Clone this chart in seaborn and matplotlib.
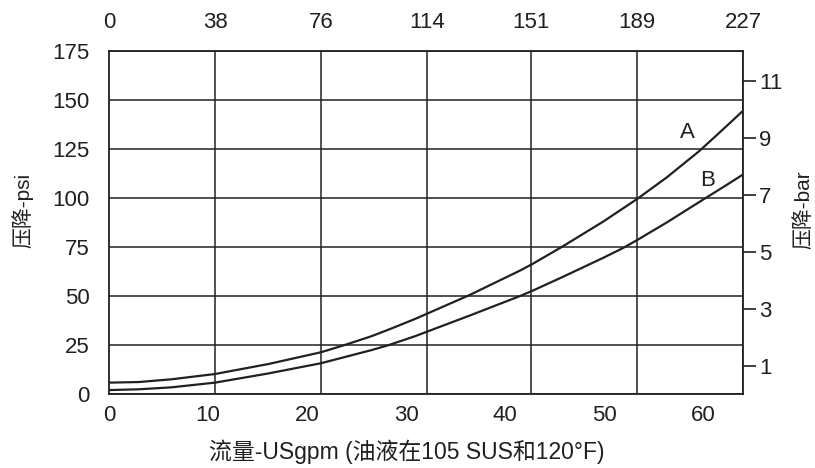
import numpy as np
import pandas as pd
import matplotlib
matplotlib.use("Agg")
import matplotlib.pyplot as plt
import seaborn as sns

# ---- data ----
gpm_a = [0, 3.0, 6.3, 10.7, 16.1, 21.4, 23.8, 26.5, 28.2, 30.9, 36.4, 41.5, 42.8, 45.7, 49.9, 53.4, 56.3, 59.6, 62.3, 64]
psi_a = [5.8, 6.1, 7.5, 10.2, 15.3, 21.3, 25.0, 29.5, 32.8, 38.3, 50.5, 63.0, 66.5, 75.0, 88.0, 99.8, 110.5, 124.0, 136.5, 144.5]
gpm_b = [0, 3.0, 6.3, 10.7, 16.1, 21.4, 26.5, 28.2, 30.9, 36.4, 41.5, 42.8, 45.7, 49.9, 51.9, 53.4, 56.3, 59.6, 62.3, 64]
psi_b = [2.0, 2.4, 3.4, 5.8, 10.5, 15.7, 22.4, 24.9, 29.5, 40.0, 50.0, 52.8, 59.5, 69.5, 74.5, 78.8, 87.5, 98.0, 106.5, 112.0]

gpm_ticks = [0, 10, 20, 30, 40, 50, 60]
lpm_ticks = [0, 38, 76, 114, 151, 189, 227]
psi_ticks = [0, 25, 50, 75, 100, 125, 150, 175]
bar_ticks = [1, 3, 5, 7, 9, 11]

xlabel = "流量-USgpm (油液在105 SUS和120°F)"
ylabel_left = "压降-psi"
ylabel_right = "压降-bar"

GPM_MAX = 64
LPM_PER_GPM = 227 / GPM_MAX
PSI_PER_BAR = 14.5

sns.set_theme(style="white")
plt.rcParams['font.family'] = ['Liberation Sans', 'Noto Sans CJK SC', 'DejaVu Sans']
INK = "#231f20"
FS = 16

df = pd.concat([
    pd.DataFrame({"gpm": gpm_a, "psi": psi_a, "curve": "A"}),
    pd.DataFrame({"gpm": gpm_b, "psi": psi_b, "curve": "B"}),
])

fig = plt.figure(figsize=(8.15, 4.68), dpi=100)
ax = fig.add_axes([109/815, 1-394/468, (743-109)/815, (394-51)/468])

sns.lineplot(data=df, x="gpm", y="psi", units="curve", estimator=None,
             color=INK, lw=1.6, ax=ax, legend=False, sort=False)

ax.set_xlim(0, GPM_MAX)
ax.set_ylim(0, 175)
ax.set_xticks(gpm_ticks)
ax.set_xticklabels([str(t) for t in gpm_ticks])
ax.set_yticks(psi_ticks)
ax.set_yticklabels([str(t) for t in psi_ticks])
ax.set_xticks([t / LPM_PER_GPM for t in lpm_ticks], minor=True)
ax.grid(False)
ax.grid(True, which="minor", axis="x", color=INK, lw=1.1)
ax.grid(True, which="major", axis="y", color=INK, lw=1.1)
ax.tick_params(axis="x", which="both", length=0, pad=8, labelsize=FS, colors=INK)
ax.tick_params(axis="y", which="both", length=0, pad=14, labelsize=FS, colors=INK)
for s in ax.spines.values():
    s.set_color(INK)
    s.set_linewidth(1.3)
ax.set_xlabel("")
ax.set_ylabel("")

# axis titles placed as in the reference
fig.text(407/815, 1-452/468, xlabel, fontsize=16.5, color=INK, ha="center", va="center")
fig.text(22/815, 1-210/468, ylabel_left, fontsize=15, color=INK, ha="center", va="center", rotation=90)
fig.text(803/815, 1-210/468, ylabel_right, fontsize=15, color=INK, ha="center", va="center", rotation=90)

# top axis (L/min)
top = ax.secondary_xaxis("top", functions=(lambda g: g * LPM_PER_GPM, lambda l: l / LPM_PER_GPM))
top.set_xticks(lpm_ticks)
top.set_xticklabels([str(t) for t in lpm_ticks])
top.tick_params(length=0, pad=13, labelsize=FS, colors=INK)
top.spines["top"].set_visible(False)

# right axis (bar)
right = ax.secondary_yaxis("right", functions=(lambda p: p / PSI_PER_BAR, lambda b: b * PSI_PER_BAR))
right.set_yticks(bar_ticks)
right.set_yticklabels([str(t) for t in bar_ticks])
right.tick_params(length=9.5, width=1.2, pad=2, labelsize=FS, colors=INK, direction="out")
right.spines["right"].set_visible(False)

ax.text(58.4, 133.5, "A", fontsize=FS, color=INK, ha="center", va="center")
ax.text(60.4, 109, "B", fontsize=FS, color=INK, ha="center", va="center")

fig.savefig("out.png", dpi=100)
